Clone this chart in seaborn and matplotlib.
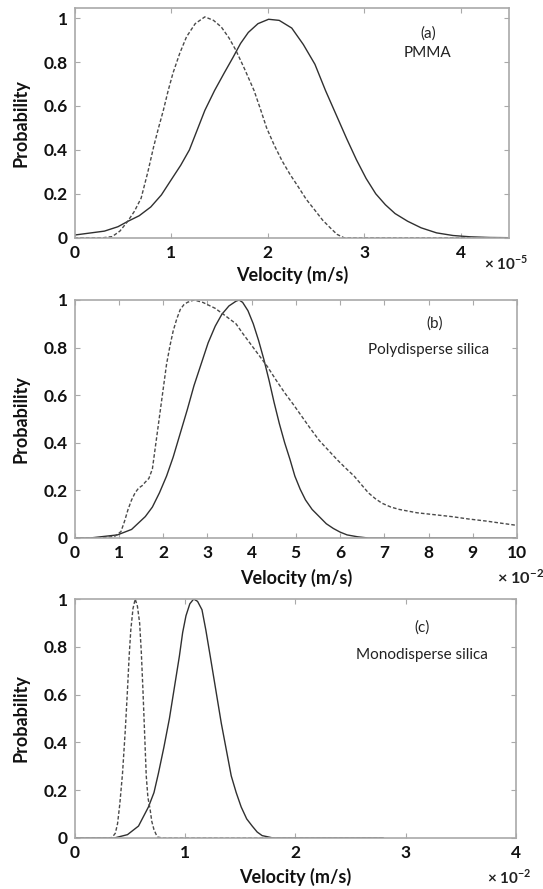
import numpy as np
import pandas as pd
import matplotlib
matplotlib.use("Agg")
import matplotlib.pyplot as plt
import seaborn as sns

# ---------------- data ----------------
# Panel (a) PMMA, velocity in units of 1e-5 m/s
a_solid_x = [0.0, 0.31, 0.45, 0.55, 0.67, 0.79, 0.90, 0.99, 1.10, 1.19, 1.27, 1.35, 1.45, 1.55,
             1.64, 1.72, 1.80, 1.90, 2.01, 2.12, 2.25, 2.37, 2.49, 2.60, 2.72, 2.82, 2.92, 3.02,
             3.12, 3.22, 3.32, 3.45, 3.59, 3.75, 3.92, 4.10, 4.30, 4.50]
a_solid_y = [0.012, 0.03, 0.05, 0.074, 0.10, 0.14, 0.195, 0.256, 0.33, 0.40, 0.49, 0.58, 0.67, 0.75,
             0.82, 0.885, 0.935, 0.975, 0.995, 0.99, 0.955, 0.88, 0.79, 0.67, 0.55, 0.45, 0.355, 0.27,
             0.20, 0.15, 0.11, 0.075, 0.045, 0.022, 0.01, 0.004, 0.001, 0.0]
a_dash_x = [0.0, 0.30, 0.39, 0.47, 0.55, 0.62, 0.69, 0.76, 0.82, 0.87, 0.92, 0.97, 1.02, 1.09, 1.16,
            1.25, 1.35, 1.44, 1.52, 1.60, 1.67, 1.76, 1.86, 1.93, 1.99, 2.07, 2.15, 2.23, 2.32,
            2.40, 2.49, 2.57, 2.66, 2.72, 2.79, 3.00, 4.50]
a_dash_y = [0.0, 0.0, 0.005, 0.03, 0.074, 0.12, 0.18, 0.30, 0.415, 0.50, 0.58, 0.67, 0.75, 0.84, 0.915,
            0.975, 1.006, 0.99, 0.96, 0.91, 0.855, 0.77, 0.67, 0.58, 0.50, 0.42, 0.35, 0.29, 0.23,
            0.175, 0.125, 0.08, 0.04, 0.015, 0.0, 0.0, 0.0]

# Panel (b) polydisperse silica, velocity in units of 1e-2 m/s
b_solid_x = [0.0, 0.35, 0.97, 1.29, 1.60, 1.76, 1.92, 2.08, 2.23, 2.39, 2.55, 2.70, 2.86, 3.02, 3.18,
             3.33, 3.49, 3.65, 3.72, 3.80, 3.92, 4.04, 4.16, 4.28, 4.40, 4.51, 4.63, 4.75, 4.87,
             4.98, 5.10, 5.22, 5.37, 5.53, 5.69, 5.85, 6.00, 6.16, 6.40, 6.64, 10.0]
b_solid_y = [0.0, 0.0, 0.013, 0.036, 0.09, 0.13, 0.19, 0.26, 0.34, 0.44, 0.54, 0.64, 0.73, 0.82, 0.89,
             0.94, 0.975, 0.995, 1.0, 0.99, 0.955, 0.90, 0.83, 0.75, 0.66, 0.57, 0.48, 0.40, 0.33,
             0.26, 0.205, 0.16, 0.12, 0.09, 0.06, 0.04, 0.025, 0.013, 0.005, 0.0, 0.0]
b_dash_x = [0.0, 0.50, 0.90, 1.05, 1.13, 1.21, 1.29, 1.37, 1.45, 1.53, 1.60, 1.68, 1.76, 1.84, 1.92,
            2.00, 2.08, 2.16, 2.23, 2.31, 2.39, 2.47, 2.55, 2.70, 2.90, 3.18, 3.40, 3.65, 3.80,
            3.96, 4.16, 4.36, 4.55, 4.75, 4.95, 5.14, 5.33, 5.53, 5.73, 5.93, 6.12, 6.32, 6.48,
            6.64, 6.80, 6.95, 7.15, 7.34, 7.74, 8.13, 8.52, 8.90, 9.31, 9.65, 10.0]
b_dash_y = [0.0, 0.0, 0.006, 0.027, 0.07, 0.12, 0.16, 0.19, 0.21, 0.22, 0.235, 0.25, 0.29, 0.40, 0.51,
            0.62, 0.73, 0.81, 0.87, 0.92, 0.96, 0.98, 0.99, 1.0, 0.99, 0.965, 0.935, 0.90, 0.86,
            0.82, 0.77, 0.72, 0.665, 0.61, 0.56, 0.51, 0.46, 0.41, 0.37, 0.33, 0.295, 0.26, 0.225,
            0.19, 0.165, 0.146, 0.13, 0.12, 0.106, 0.098, 0.09, 0.08, 0.071, 0.062, 0.053]

# Panel (c) monodisperse silica, velocity in units of 1e-2 m/s
c_solid_x = [0.0, 0.36, 0.48, 0.58, 0.67, 0.72, 0.76, 0.81, 0.86, 0.905, 0.95, 0.98, 1.01, 1.045, 1.08,
             1.115, 1.155, 1.19, 1.23, 1.28, 1.33, 1.375, 1.42, 1.465, 1.51, 1.56, 1.61, 1.655,
             1.70, 1.80, 2.80]
c_solid_y = [0.0, 0.0, 0.014, 0.05, 0.13, 0.19, 0.27, 0.38, 0.50, 0.63, 0.76, 0.86, 0.93, 0.98, 1.0,
             0.99, 0.955, 0.87, 0.76, 0.62, 0.48, 0.37, 0.26, 0.19, 0.13, 0.08, 0.05, 0.025,
             0.01, 0.0, 0.0]
c_dash_x = [0.0, 0.30, 0.34, 0.37, 0.39, 0.41, 0.435, 0.46, 0.48, 0.495, 0.51, 0.53, 0.55, 0.57, 0.59,
            0.605, 0.62, 0.635, 0.65, 0.665, 0.685, 0.70, 0.72, 0.75, 0.80, 2.80]
c_dash_y = [0.0, 0.0, 0.002, 0.02, 0.06, 0.14, 0.27, 0.45, 0.62, 0.76, 0.87, 0.96, 1.0, 0.97, 0.90,
            0.78, 0.62, 0.44, 0.26, 0.17, 0.12, 0.07, 0.035, 0.004, 0.0, 0.0]

panel_labels = ["(a)", "(b)", "(c)"]
panel_names = ["PMMA", "Polydisperse silica", "Monodisperse silica"]
x_limits = [(0, 4.5), (0, 10), (0, 4)]
y_limits = [(0, 1.045), (0, 1.0), (0, 1.0)]
x_ticks = [[0, 1, 2, 3, 4], list(range(0, 11)), [0, 1, 2, 3, 4]]
y_ticks = [0, 0.2, 0.4, 0.6, 0.8, 1]
y_tick_labels = ["0", "0.2", "0.4", "0.6", "0.8", "1"]
exponents = ["-5", "-2", "-2"]

# ---------------- style ----------------
sns.set_theme(style="white")
plt.rcParams["font.family"] = ["Lato", "DejaVu Sans"]
plt.rcParams["mathtext.fontset"] = "custom"
plt.rcParams["mathtext.rm"] = "Lato"

W, H = 543, 889
fig = plt.figure(figsize=(W / 100, H / 100), dpi=100)

# axes boxes in pixels: left, right, top, bottom
boxes = [(74.5, 509.0, 8.3, 237.7), (74.5, 517.0, 300.0, 538.0), (74.5, 516.0, 599.0, 838.0)]
text_pos = [((0.815, 0.891), (0.812, 0.804)),
            ((0.815, 0.902), (0.800, 0.790)),
            ((0.787, 0.882), (0.787, 0.766))]
xlabel_y = [-0.123, -0.130, -0.126]
exp_pos = [(484, 263), (497, 577), (487, 877)]
exp_size = [11, 11.8, 11]

series = [
    (a_solid_x, a_solid_y, a_dash_x, a_dash_y),
    (b_solid_x, b_solid_y, b_dash_x, b_dash_y),
    (c_solid_x, c_solid_y, c_dash_x, c_dash_y),
]

spine_col = "#a9a9a9"
for i, (l, r, t, b) in enumerate(boxes):
    ax = fig.add_axes([l / W, (H - b) / H, (r - l) / W, (b - t) / H])
    sx, sy, dx, dy = series[i]
    df_s = pd.DataFrame({"v": sx, "p": sy})
    df_d = pd.DataFrame({"v": dx, "p": dy})
    sns.lineplot(data=df_s, x="v", y="p", ax=ax, color="#303030", linewidth=1.0, sort=False)
    sns.lineplot(data=df_d, x="v", y="p", ax=ax, color="#4a4a4a", linewidth=1.0, sort=False,
                 linestyle=(0, (2.6, 1.5)))
    ax.set_xlim(*x_limits[i])
    ax.set_ylim(*y_limits[i])
    ax.set_xticks(x_ticks[i])
    ax.set_xticklabels([str(v) for v in x_ticks[i]])
    ax.set_yticks(y_ticks)
    ax.set_yticklabels(y_tick_labels)
    for s in ax.spines.values():
        s.set_visible(True)
        s.set_color(spine_col)
        s.set_linewidth(1.2)
    ax.tick_params(direction="in", length=3.5, width=0.8, color=spine_col,
                   top=True, right=True, bottom=True, left=True,
                   labelsize=12.5, pad=5, labelcolor="#111111")
    for lab in ax.get_xticklabels() + ax.get_yticklabels():
        lab.set_fontweight("bold")
    ax.set_xlabel("Velocity (m/s)", fontsize=13, fontweight="bold", color="#111111")
    ax.set_ylabel("Probability", fontsize=13, fontweight="bold", color="#111111")
    ax.xaxis.set_label_coords(0.5, xlabel_y[i])
    ax.yaxis.set_label_coords((30 - l) / (r - l), 0.5)
    (p1, p2) = text_pos[i]
    ax.text(p1[0], p1[1], panel_labels[i], transform=ax.transAxes, ha="center", va="center",
            fontsize=11, color="#222222")
    ax.text(p2[0], p2[1], panel_names[i], transform=ax.transAxes, ha="center", va="center",
            fontsize=11, color="#222222")
    ex, ey = exp_pos[i]
    fig.text(ex / W, 1 - ey / H, "× 10$^{\\mathregular{" + exponents[i] + "}}$",
             ha="left", va="center", fontsize=exp_size[i], fontweight="bold", color="#222222")

fig.savefig("out.png", dpi=100)
